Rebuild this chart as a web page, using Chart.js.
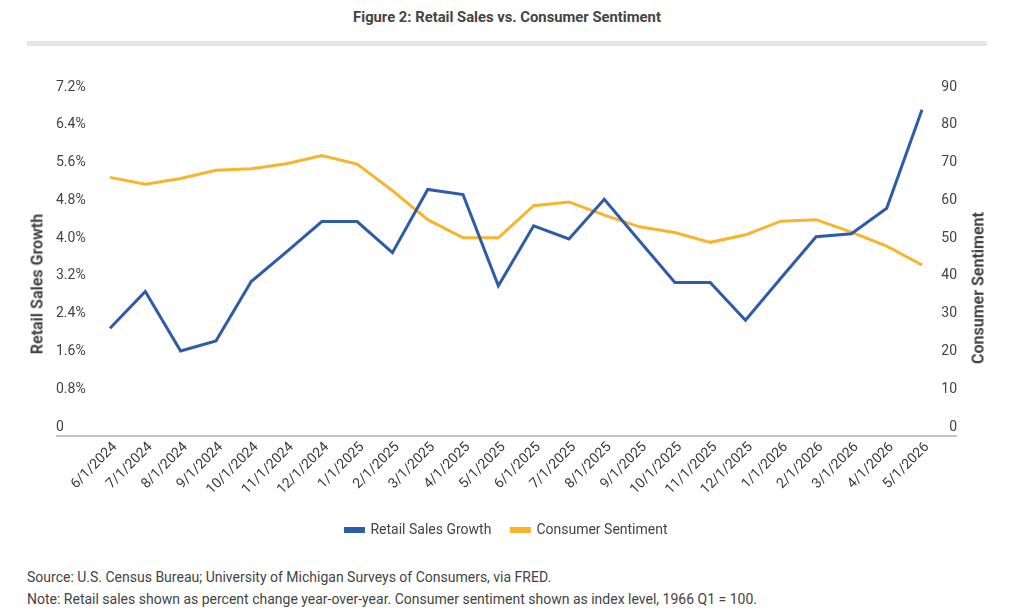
<!DOCTYPE html>
<html>
<head>
<meta charset="utf-8">
<script src="https://cdn.jsdelivr.net/npm/chart.js@4"></script>
<style>
  body { margin: 0; background: #fff; font-family: Roboto, "Noto Sans", sans-serif; color: #444; }
  #page { position: relative; width: 1024px; height: 615px; overflow: hidden; }
  #title { position: absolute; top: 8px; left: 0; width: 1014px; text-align: center; font-weight: bold; font-size: 14.8px; }
  #band { position: absolute; left: 27px; top: 41px; width: 960px; height: 5px; background: #e6e6e6; }
  #wrap { position: absolute; left: 0; top: 55px; width: 1024px; height: 492px; }
  .ytitle { position: absolute; font-weight: bold; font-size: 16px; white-space: nowrap; transform: translate(-50%, -50%) rotate(-90deg); }
  .note { position: absolute; left: 27px; font-size: 14px; white-space: nowrap; }
</style>
</head>
<body>
<div id="page">
  <div id="title">Figure 2: Retail Sales vs. Consumer Sentiment</div>
  <div id="band"></div>
  <div id="wrap"><canvas id="chart"></canvas></div>
  <div class="ytitle" style="left:37px; top:284px;">Retail Sales Growth</div>
  <div class="ytitle" style="left:978px; top:288px;">Consumer Sentiment</div>
  <div class="note" style="top:569px;">Source: U.S. Census Bureau; University of Michigan Surveys of Consumers, via FRED.</div>
  <div class="note" style="top:591px;">Note: Retail sales shown as percent change year-over-year. Consumer sentiment shown as index level, 1966 Q1 = 100.</div>
</div>
<script>
const months = ["6/1/2024", "7/1/2024", "8/1/2024", "9/1/2024", "10/1/2024", "11/1/2024",
  "12/1/2024", "1/1/2025", "2/1/2025", "3/1/2025", "4/1/2025", "5/1/2025", "6/1/2025",
  "7/1/2025", "8/1/2025", "9/1/2025", "10/1/2025", "11/1/2025", "12/1/2025", "1/1/2026",
  "2/1/2026", "3/1/2026", "4/1/2026", "5/1/2026"];
const retailGrowth = [2.26, 3.04, 1.78, 1.99, 3.25, 3.88, 4.52, 4.52, 3.86, 5.2, 5.09, 3.16,
  4.43, 4.15, 4.99, 4.11, 3.23, 3.23, 2.43, 3.32, 4.2, 4.26, 4.8, 6.89];
const sentiment = [68.2, 66.4, 67.9, 70.1, 70.5, 71.8, 74.0, 71.7, 64.7, 57.0, 52.2, 52.2,
  60.7, 61.7, 58.2, 55.1, 53.6, 51.0, 53.0, 56.6, 57.0, 53.7, 50.0, 45.0];
const leftTicks = [0, 0.8, 1.6, 2.4, 3.2, 4.0, 4.8, 5.6, 6.4, 7.2];
const rightTicks = [0, 10, 20, 30, 40, 50, 60, 70, 80, 90];

const BLUE = "#2d5ca8";
const GOLD = "#f8b52c";
const TEXT = "#444";

// bottom rule running under both axis label columns
const baseRule = {
  id: "baseRule",
  afterDraw(chart) {
    const { ctx, chartArea, scales } = chart;
    ctx.save();
    ctx.strokeStyle = "#c4c4c4";
    ctx.lineWidth = 2;
    ctx.beginPath();
    ctx.moveTo(scales.y.left, chartArea.bottom + 1);
    ctx.lineTo(scales.y1.right, chartArea.bottom + 1);
    ctx.stroke();
    ctx.restore();
  }
};

new Chart(document.getElementById("chart"), {
  type: "line",
  data: {
    labels: months,
    datasets: [
      { label: "Retail Sales Growth", data: retailGrowth, yAxisID: "y",
        borderColor: BLUE, backgroundColor: BLUE, borderWidth: 3, pointRadius: 0, tension: 0 },
      { label: "Consumer Sentiment", data: sentiment, yAxisID: "y1",
        borderColor: GOLD, backgroundColor: GOLD, borderWidth: 3, pointRadius: 0, tension: 0 }
    ]
  },
  options: {
    responsive: true,
    maintainAspectRatio: false,
    animation: false,
    layout: { padding: { top: 40, left: 56, right: 67, bottom: 0 } },
    plugins: {
      legend: {
        position: "bottom",
        labels: { color: TEXT, font: { family: "Roboto", size: 14 }, boxWidth: 18, boxHeight: 3, padding: 20 }
      },
      tooltip: { enabled: false }
    },
    scales: {
      x: {
        grid: { display: false, drawTicks: false },
        border: { display: false },
        afterFit(s) { s.height = 68; },
        ticks: { color: "#3a3a3a", font: { family: "Roboto", size: 14 }, minRotation: 45, maxRotation: 45,
          padding: 4, labelOffset: 5, autoSkip: false }
      },
      y: {
        position: "left",
        min: 0, max: 7.2,
        grid: { display: false, drawTicks: false },
        border: { display: false },
        afterBuildTicks(s) { s.ticks = leftTicks.map(v => ({ value: v })); },
        afterFit(s) { s.width = 54; },
        ticks: {
          color: TEXT, font: { family: "Roboto", size: 14 }, crossAlign: "far", labelOffset: -8,
          callback: v => v === 0 ? "0" : v.toFixed(1) + "%"
        }
      },
      y1: {
        position: "right",
        min: 0, max: 90,
        grid: { display: false, drawTicks: false },
        border: { display: false },
        afterBuildTicks(s) { s.ticks = rightTicks.map(v => ({ value: v })); },
        afterFit(s) { s.width = 35; },
        ticks: { color: TEXT, font: { family: "Roboto", size: 14 }, crossAlign: "far", labelOffset: -8 }
      }
    }
  },
  plugins: [baseRule]
});
</script>
</body>
</html>
